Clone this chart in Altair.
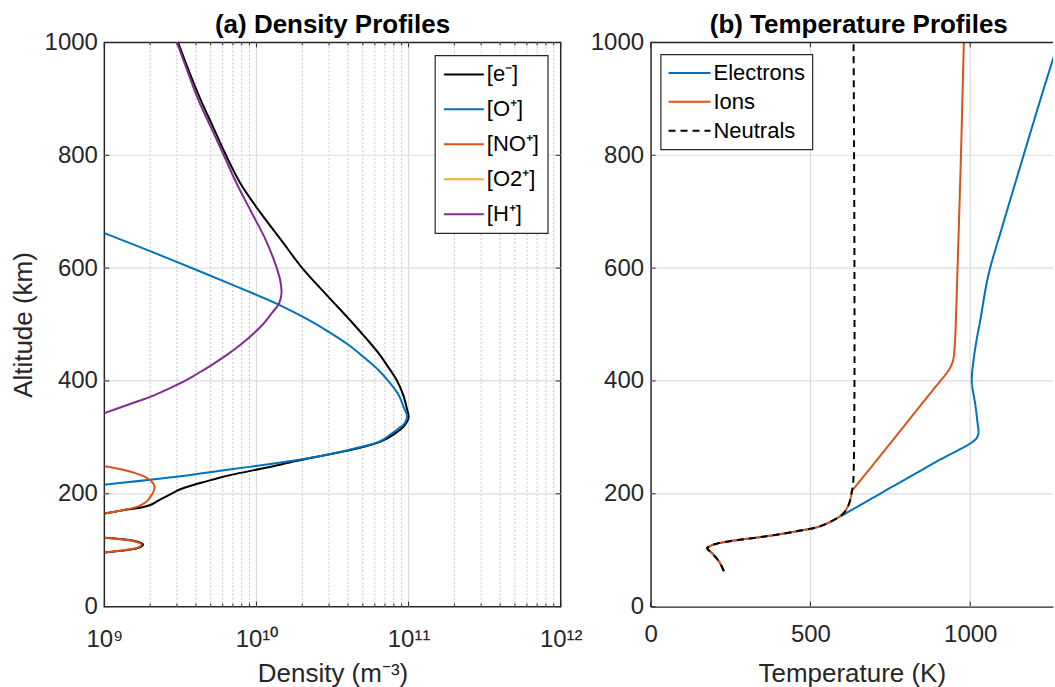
import altair as alt
import pandas as pd

FONT = "Liberation Sans"
INK = "#262626"
GRID = "#dcdcdc"

# ---------------- Panel (a): density profiles ----------------
SPECIES = ["[e⁻]", "[O⁺]", "[NO⁺]", "[O2⁺]", "[H⁺]"]
SPECIES_COLORS = ["#000000", "#0072BD", "#D95319", "#EDB120", "#7E2F8E"]

E_ALT = [1000, 950, 900, 850, 800, 750, 700, 650, 600, 550, 500, 450, 425, 400, 375, 350,
         335, 320, 305, 293, 280, 270, 258, 246, 234, 228, 222, 216, 208, 200, 190,
         181, 176, 172, 168, 165]
E_DEN = [3.05e9, 3.59e9, 4.27e9, 5.19e9, 6.31e9, 7.85e9, 1.05e10, 1.45e10, 2.0e10, 2.95e10,
         4.37e10, 6.31e10, 7.33e10, 8.41e10, 9.23e10, 9.77e10, 1.0e11, 9.33e10, 7.94e10,
         6.61e10, 4.57e10, 3.02e10, 1.82e10, 1.15e10, 6.92e9, 5.62e9, 4.68e9, 3.89e9,
         3.16e9, 2.75e9, 2.34e9, 2.04e9, 1.78e9, 1.41e9, 1.17e9, 1.0e9]

E_LOBE_ALT = [122, 118, 114, 110, 106, 102, 99, 96]
E_LOBE_DEN = [1.0e9, 1.45e9, 1.70e9, 1.80e9, 1.74e9, 1.55e9, 1.29e9, 1.0e9]

OP_ALT = [662, 630, 594, 565, 535, 510, 488, 465, 441, 420, 399, 375, 352, 338, 325, 317,
          305, 293, 282, 270, 262, 255, 243, 231, 216]
OP_DEN = [1.0e9, 2.0e9, 4.27e9, 7.76e9, 1.41e10, 2.14e10, 2.95e10, 3.98e10, 5.13e10, 6.31e10,
          7.41e10, 8.61e10, 9.33e10, 9.77e10, 9.44e10, 8.71e10, 7.59e10, 6.46e10, 4.68e10,
          3.02e10, 2.09e10, 1.41e10, 6.61e9, 3.16e9, 1.0e9]

NOP_UP_ALT = [249, 244, 237, 228, 219, 211, 202, 194, 187, 180, 175, 170, 165]
NOP_UP_DEN = [1.0e9, 1.26e9, 1.58e9, 1.91e9, 2.09e9, 2.14e9, 2.09e9, 2.0e9, 1.91e9, 1.74e9,
              1.55e9, 1.26e9, 1.0e9]
NOP_LOW_ALT = [122, 118, 114, 110, 106, 102, 99, 96]
NOP_LOW_DEN = [1.0e9, 1.41e9, 1.66e9, 1.76e9, 1.70e9, 1.51e9, 1.26e9, 1.0e9]

HP_ALT = [1000, 950, 900, 850, 800, 750, 700, 650, 600, 575, 555, 538, 520, 500, 480, 464,
          447, 429, 411, 396, 375, 360, 343]
HP_DEN = [3.0e9, 3.51e9, 4.12e9, 5.01e9, 6.10e9, 7.41e9, 9.23e9, 1.15e10, 1.36e10, 1.44e10,
          1.46e10, 1.41e10, 1.26e10, 1.10e10, 9.23e9, 7.85e9, 6.46e9, 5.13e9, 3.98e9, 3.16e9,
          2.14e9, 1.51e9, 1.0e9]

DEN_TICKS = [1000000000, 10000000000, 100000000000, 1000000000000]
DEN_TICK_LABELS = ["10⁹", "10¹⁰", "10¹¹", "10¹²"]
DEN_GRID_MAJOR = [1e10, 1e11]
DEN_GRID_MINOR = [2e9, 3e9, 4e9, 5e9, 6e9, 7e9, 8e9, 9e9,
                  2e10, 3e10, 4e10, 5e10, 6e10, 7e10, 8e10, 9e10,
                  2e11, 3e11, 4e11, 5e11, 6e11, 7e11, 8e11, 9e11]

ALT_TICKS = [0, 200, 400, 600, 800, 1000]
ALT_GRID = [200, 400, 600, 800]

# ---------------- Panel (b): temperature profiles ----------------
SERIES = ["Electrons", "Ions", "Neutrals"]
SERIES_COLORS = ["#0072BD", "#D95319", "#000000"]

LOW_ALT = [63, 72, 80, 88, 96, 101, 104, 107, 110, 113, 116, 119, 122, 126, 131, 135, 140,
           147, 155]
LOW_T = [229, 222, 214, 203, 190, 180, 177, 185, 197, 218, 248, 285, 328, 378, 432, 470, 516,
         550, 578]

NEU_ALT_UP = [165, 181, 195, 205, 220, 1000]
NEU_T_UP = [603, 620, 627, 630, 634, 635]

ION_ALT_UP = [165, 181, 195, 205, 215, 250, 281, 320, 352, 385, 417, 428, 438, 450, 476, 612,
              800, 1000]
ION_T_UP = [603, 620, 627, 630, 644, 694, 738, 793, 838, 885, 930, 941, 947, 950, 953, 961,
            971, 980]

ELE_ALT_UP = [205, 255, 296, 305, 310, 330, 358, 399, 435, 476, 506, 588, 671, 800, 907, 972,
              1000]
ELE_T_UP = [733, 888, 1016, 1025, 1026, 1022, 1016, 1005, 1010, 1021, 1031, 1057, 1099, 1167,
            1224, 1260, 1276]

T_TICKS = [0, 500, 1000]
T_GRID = [500, 1000]
T_MAX = 1259

W_A, W_B, H = 457, 403, 565

# ---------------- tables ----------------
rows_a = []


def add(rows, name, seg, alts, vals, key, vkey):
    for i, (a, v) in enumerate(zip(alts, vals)):
        rows.append({key: name, "seg": seg, "alt": a, vkey: v, "idx": i})


add(rows_a, SPECIES[0], "e1", E_ALT, E_DEN, "species", "den")
add(rows_a, SPECIES[0], "e2", E_LOBE_ALT, E_LOBE_DEN, "species", "den")
add(rows_a, SPECIES[1], "o1", OP_ALT, OP_DEN, "species", "den")
add(rows_a, SPECIES[2], "n1", NOP_UP_ALT, NOP_UP_DEN, "species", "den")
add(rows_a, SPECIES[2], "n2", NOP_LOW_ALT, NOP_LOW_DEN, "species", "den")
add(rows_a, SPECIES[4], "h1", HP_ALT, HP_DEN, "species", "den")
df_a = pd.DataFrame(rows_a)

rows_b = []
add(rows_b, "Electrons", "el", LOW_ALT + ELE_ALT_UP, LOW_T + ELE_T_UP, "series", "temp")
add(rows_b, "Ions", "io", LOW_ALT + ION_ALT_UP, LOW_T + ION_T_UP, "series", "temp")
add(rows_b, "Neutrals", "ne", LOW_ALT + NEU_ALT_UP, LOW_T + NEU_T_UP, "series", "temp")
df_b = pd.DataFrame(rows_b)


def vticks(values, field, scale, axis, length, width, top=True):
    """Short inward tick marks on the bottom (and top) edge of a panel."""
    base = alt.Chart(pd.DataFrame({field: values}))
    enc_x = alt.X(f"{field}:Q", scale=scale, axis=axis)
    out = [base.mark_rule(color=INK, strokeWidth=1).encode(
        x=enc_x, y=alt.value(H), y2=alt.value(H - length))]
    if top:
        out.append(base.mark_rule(color=INK, strokeWidth=1).encode(
            x=enc_x, y=alt.value(0), y2=alt.value(length)))
    return out


def hticks(values, scale, axis, length, width, right=True):
    base = alt.Chart(pd.DataFrame({"alt": values}))
    enc_y = alt.Y("alt:Q", scale=scale, axis=axis)
    out = [base.mark_rule(color=INK, strokeWidth=1).encode(
        y=enc_y, x=alt.value(0), x2=alt.value(length))]
    if right:
        out.append(base.mark_rule(color=INK, strokeWidth=1).encode(
            y=enc_y, x=alt.value(width - length), x2=alt.value(width)))
    return out


# ---------------- panel (a) ----------------
x_scale_a = alt.Scale(type="log", domain=[1e9, 1e12], nice=False)
y_scale = alt.Scale(domain=[0, 1000], nice=False, zero=False)

label_expr = " : ".join(
    f"datum.value == {v} ? '{l}'" for v, l in zip(DEN_TICKS, DEN_TICK_LABELS)) + " : ''"

y_axis_a = alt.Axis(values=ALT_TICKS, format="d", title="Altitude (km)", grid=False,
                    ticks=False, domain=False, labelPadding=7, titlePadding=8,
                    labelFlush=False)
x_axis_a = alt.Axis(values=DEN_TICKS, labelExpr=label_expr, title="Density (m⁻³)", grid=False,
                    ticks=False, domain=False, labelPadding=21, titlePadding=9,
                    labelFlush=False)

minor_a = alt.Chart(pd.DataFrame({"den": DEN_GRID_MINOR})).mark_rule(
    color="#c4c4c4", strokeDash=[2, 2], strokeWidth=1).encode(
    x=alt.X("den:Q", scale=x_scale_a, axis=x_axis_a))
major_a = alt.Chart(pd.DataFrame({"den": DEN_GRID_MAJOR})).mark_rule(
    color=GRID, strokeWidth=1.2).encode(x=alt.X("den:Q", scale=x_scale_a, axis=x_axis_a))
ygrid_a = alt.Chart(pd.DataFrame({"alt": ALT_GRID})).mark_rule(
    color=GRID, strokeWidth=1.2).encode(y=alt.Y("alt:Q", scale=y_scale, axis=y_axis_a))

ticks_a = (vticks(DEN_TICKS, "den", x_scale_a, x_axis_a, 5, W_A)
           + vticks(DEN_GRID_MINOR, "den", x_scale_a, x_axis_a, 3, W_A)
           + hticks(ALT_TICKS, y_scale, y_axis_a, 5, W_A))

legend_a = alt.Legend(orient="none", legendX=331, legendY=13, direction="vertical",
                      strokeColor=INK, fillColor="white", padding=8, symbolType="M-1,0L3,0",
                      symbolSize=400, symbolStrokeWidth=2, labelFontSize=22, labelFont=FONT,
                      labelColor="black", rowPadding=13, labelOffset=22)

lines_a = alt.Chart(df_a).mark_line(strokeWidth=2, clip=True, interpolate="catmull-rom").encode(
    x=alt.X("den:Q", scale=x_scale_a, axis=x_axis_a),
    y=alt.Y("alt:Q", scale=y_scale, axis=y_axis_a),
    color=alt.Color("species:N", scale=alt.Scale(domain=SPECIES, range=SPECIES_COLORS),
                    legend=legend_a, title=None),
    detail="seg:N",
    order="idx:Q",
)

panel_a = alt.layer(minor_a, major_a, ygrid_a, *ticks_a, lines_a).properties(
    width=W_A, height=H,
    title=alt.TitleParams("(a) Density Profiles", fontSize=26, fontWeight="bold", font=FONT,
                          color="black", offset=-8, anchor="middle"),
    view=alt.ViewBackground(stroke=INK, strokeWidth=1.5),
)

# ---------------- panel (b) ----------------
x_scale_b = alt.Scale(domain=[0, T_MAX], nice=False, zero=False)

x_axis_b = alt.Axis(values=T_TICKS, format="d", title="Temperature (K)", grid=False,
                    ticks=False, domain=True, domainColor=INK, domainWidth=1.5,
                    labelPadding=16, titlePadding=14, labelFlush=False)
y_axis_b = alt.Axis(values=ALT_TICKS, format="d", title=None, grid=False, ticks=False,
                    domain=True, domainColor=INK, domainWidth=1.5, labelPadding=7,
                    labelFlush=False)

xgrid_b = alt.Chart(pd.DataFrame({"temp": T_GRID})).mark_rule(
    color=GRID, strokeWidth=1.2).encode(x=alt.X("temp:Q", scale=x_scale_b, axis=x_axis_b))
ygrid_b = alt.Chart(pd.DataFrame({"alt": ALT_GRID})).mark_rule(
    color=GRID, strokeWidth=1.2).encode(y=alt.Y("alt:Q", scale=y_scale, axis=y_axis_b))
top_b = alt.Chart(pd.DataFrame({"k": [0]})).mark_rule(color=INK, strokeWidth=1.5).encode(
    x=alt.value(0), x2=alt.value(W_B), y=alt.value(0))

ticks_b = (vticks(T_TICKS, "temp", x_scale_b, x_axis_b, 5, W_B)
           + hticks(ALT_TICKS, y_scale, y_axis_b, 5, W_B, right=False))

legend_b = alt.Legend(orient="none", legendX=10, legendY=12, direction="vertical",
                      strokeColor=INK, fillColor="white", padding=7, symbolType="M-1,0L3,0",
                      symbolSize=441, symbolStrokeWidth=2, labelFontSize=22, labelFont=FONT,
                      labelColor="black", rowPadding=6, labelOffset=23)

lines_b = alt.Chart(df_b).mark_line(strokeWidth=2, clip=True, interpolate="catmull-rom").encode(
    x=alt.X("temp:Q", scale=x_scale_b, axis=x_axis_b),
    y=alt.Y("alt:Q", scale=y_scale, axis=y_axis_b),
    color=alt.Color("series:N", scale=alt.Scale(domain=SERIES, range=SERIES_COLORS),
                    legend=legend_b, title=None),
    strokeDash=alt.StrokeDash("series:N",
                              scale=alt.Scale(domain=SERIES, range=[[1, 0], [1, 0], [7, 5]]),
                              legend=legend_b, title=None),
    detail="seg:N",
    order="idx:Q",
)

panel_b = alt.layer(xgrid_b, ygrid_b, *ticks_b, lines_b, top_b).properties(
    width=W_B, height=H,
    title=alt.TitleParams("(b) Temperature Profiles", fontSize=26, fontWeight="bold", font=FONT,
                          color="black", offset=-8, anchor="middle", dx=7),
    view=alt.ViewBackground(stroke="transparent"),
)

chart = alt.hconcat(panel_a, panel_b, spacing=90, bounds="flush").resolve_scale(
    color="independent", strokeDash="independent"
).properties(
    padding={"left": 8.5, "top": 11, "right": 0, "bottom": 0},
    background="white",
).configure(font=FONT).configure_axis(
    labelFont=FONT, titleFont=FONT, labelFontSize=24, titleFontSize=26, labelColor=INK,
    titleColor=INK, titleFontWeight="normal",
).configure_legend(strokeWidth=1.2)

chart.save("out.html", embed_options={"renderer": "svg", "actions": False})
